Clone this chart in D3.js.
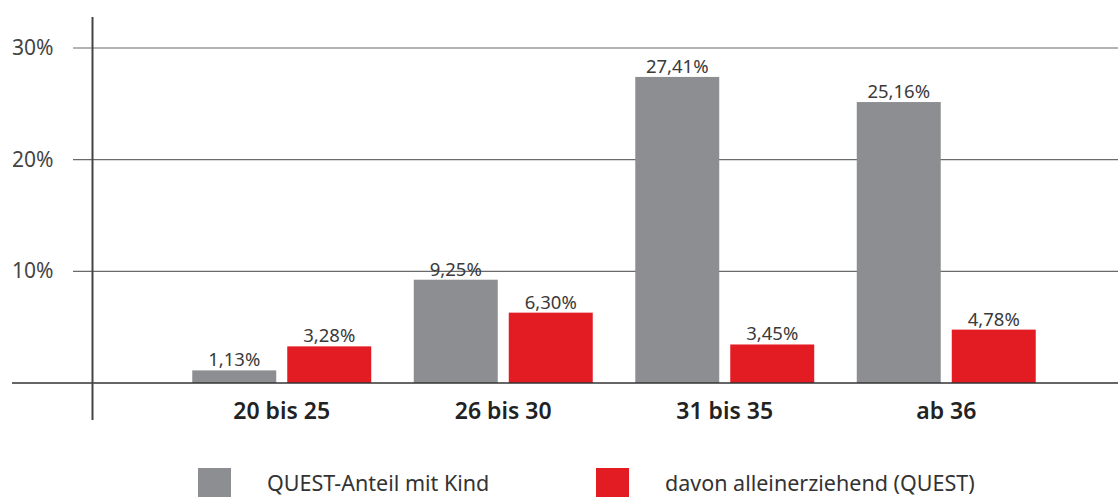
<!DOCTYPE html>
<html>
<head>
<meta charset="utf-8">
<script src="https://cdn.jsdelivr.net/npm/d3@7"></script>
<style>
  body { margin: 0; background: #fff; }
  svg { display: block; font-family: 'Noto Sans', sans-serif; }
</style>
</head>
<body>
<svg class="chart" width="1118" height="497"></svg>
<script>
const categories = ['20 bis 25', '26 bis 30', '31 bis 35', 'ab 36'];
const seriesNames = ['QUEST-Anteil mit Kind', 'davon alleinerziehend (QUEST)'];
const seriesColors = ['#8d8e92', '#e31b23'];
const anteilMitKind = [1.13, 9.25, 27.41, 25.16];
const alleinerziehend = [3.28, 6.30, 3.45, 4.78];
const yTicks = [10, 20, 30];

const w = 1118;
const h = 497;
const base = 383;

const svg = d3.select('.chart');

const yScale = d3.scaleLinear()
  .domain([0, 30])
  .range([base, 48]);

const x0 = d3.scaleBand()
  .domain(categories)
  .range([171, 1057])
  .paddingInner(0.192)
  .paddingOuter(0.096);

const x1 = d3.scaleBand()
  .domain([0, 1])
  .range([0, x0.bandwidth()])
  .paddingInner(0.116);

const fmt = v => v.toFixed(2).replace('.', ',') + '%';

// gridlines + tick labels
svg.append('g').selectAll('line')
  .data(yTicks)
  .enter()
  .append('line')
  .attr('x1', 73)
  .attr('x2', w)
  .attr('y1', d => yScale(d))
  .attr('y2', d => yScale(d))
  .attr('stroke', '#6a6a6a')
  .attr('stroke-width', 1.2);

svg.append('g').selectAll('text')
  .data(yTicks)
  .enter()
  .append('text')
  .attr('x', 12)
  .attr('y', d => yScale(d) + 7)
  .attr('fill', '#444')
  .style('font-size', '21px')
  .text(d => d + '%');

// bars
const rows = categories.map((c, i) => ({ cat: c, vals: [anteilMitKind[i], alleinerziehend[i]] }));

const groups = svg.append('g').selectAll('g')
  .data(rows)
  .enter()
  .append('g')
  .attr('transform', d => `translate(${x0(d.cat)},0)`);

groups.selectAll('rect')
  .data(d => d.vals.map((v, s) => ({ v, s })))
  .enter()
  .append('rect')
  .attr('x', d => x1(d.s))
  .attr('width', x1.bandwidth())
  .attr('y', d => yScale(d.v))
  .attr('height', d => base - yScale(d.v))
  .attr('fill', d => seriesColors[d.s]);

groups.selectAll('text.val')
  .data(d => d.vals.map((v, s) => ({ v, s })))
  .enter()
  .append('text')
  .attr('class', 'val')
  .attr('x', d => x1(d.s) + x1.bandwidth() / 2)
  .attr('y', d => yScale(d.v) - 4)
  .attr('text-anchor', 'middle')
  .attr('fill', '#3a3a3a')
  .style('font-size', '18.5px')
  .text(d => fmt(d.v));

// axes lines
svg.append('line')
  .attr('x1', 12).attr('x2', w)
  .attr('y1', base).attr('y2', base)
  .attr('stroke', '#333').attr('stroke-width', 1.6);

svg.append('line')
  .attr('x1', 92.5).attr('x2', 92.5)
  .attr('y1', 17).attr('y2', 420)
  .attr('stroke', '#444').attr('stroke-width', 2);

// category labels
svg.append('g').selectAll('text')
  .data(categories)
  .enter()
  .append('text')
  .attr('x', d => x0(d) + x0.bandwidth() / 2)
  .attr('y', 419)
  .attr('text-anchor', 'middle')
  .attr('fill', '#222')
  .style('font-size', '23px')
  .style('font-weight', '600')
  .text(d => d);

// legend
const legendX = [198, 596];
const legend = svg.append('g').selectAll('g')
  .data(seriesNames)
  .enter()
  .append('g')
  .attr('transform', (d, i) => `translate(${legendX[i]},468)`);

legend.append('rect')
  .attr('width', 33)
  .attr('height', 33)
  .attr('fill', (d, i) => seriesColors[i]);

legend.append('text')
  .attr('x', 69)
  .attr('y', 23)
  .attr('fill', '#333')
  .style('font-size', '21.5px')
  .text(d => d);
</script>
</body>
</html>
